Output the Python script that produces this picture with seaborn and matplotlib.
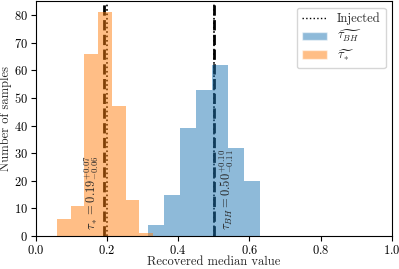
import numpy as np
import matplotlib
matplotlib.use("Agg")
import matplotlib.pyplot as plt
import seaborn as sns
from matplotlib.lines import Line2D
from matplotlib.patches import Patch

# Histogram data
bh_edges = [0.3155, 0.3604, 0.405, 0.450, 0.494, 0.539, 0.584, 0.629]
bh_counts = [4, 15, 39, 53, 62, 32, 20]
star_edges = [0.060, 0.098, 0.136, 0.175, 0.213, 0.252, 0.289, 0.328]
star_counts = [6, 11, 66, 81, 47, 13, 1]

injected = [0.2, 0.5]
bh_median, bh_up, bh_lo = 0.50, 0.10, 0.11
star_median, star_up, star_lo = 0.19, 0.07, 0.06

sns.set_style("ticks")
plt.rcParams['font.family'] = 'serif'
plt.rcParams['font.serif'] = ['cmr10', 'DejaVu Serif']
plt.rcParams['mathtext.fontset'] = 'cm'
plt.rcParams['axes.formatter.use_mathtext'] = True
plt.rcParams['font.size'] = 9
plt.rcParams['axes.edgecolor'] = 'black'
plt.rcParams['axes.linewidth'] = 0.8
plt.rcParams['xtick.color'] = 'black'
plt.rcParams['ytick.color'] = 'black'
plt.rcParams['xtick.major.size'] = 3.5
plt.rcParams['ytick.major.size'] = 3.5
plt.rcParams['xtick.major.pad'] = 2.5
plt.rcParams['ytick.major.pad'] = 2.5

fig, ax = plt.subplots(figsize=(3.99, 2.69), dpi=100)

# lines first, bars drawn over them with transparency
for v in injected:
    ax.axvline(v, color='black', linestyle=':', linewidth=1.2, zorder=0)
ax.axvline(star_median, color='black', linestyle='--', linewidth=2, zorder=0)
ax.axvline(bh_median, color='black', linestyle='--', linewidth=2, zorder=0)

bh_centers = 0.5 * (np.array(bh_edges[:-1]) + np.array(bh_edges[1:]))
star_centers = 0.5 * (np.array(star_edges[:-1]) + np.array(star_edges[1:]))

sns.histplot(x=bh_centers, weights=bh_counts, bins=bh_edges, color='C0',
             alpha=0.5, linewidth=0, ax=ax, zorder=1)
sns.histplot(x=star_centers, weights=star_counts, bins=star_edges, color='C1',
             alpha=0.5, linewidth=0, ax=ax, zorder=1)

ax.text(star_median - 0.034, 2.2,
        r'$\tau_* = %.2f^{+%.2f}_{-%.2f}$' % (star_median, star_up, star_lo),
        rotation=90, ha='center', va='bottom', fontsize=9)
ax.text(bh_median + 0.037, 2.2,
        r'$\tau_{BH} = %.2f^{+%.2f}_{-%.2f}$' % (bh_median, bh_up, bh_lo),
        rotation=90, ha='center', va='bottom', fontsize=9)

handles = [Line2D([0], [0], color='black', linestyle=':', linewidth=1.0),
           Patch(facecolor='C0', alpha=0.5),
           Patch(facecolor='C1', alpha=0.5)]
labels = ['Injected', r'$\widetilde{\tau_{BH}}$', r'$\widetilde{\tau_*}$']
ax.legend(handles, labels, loc='upper right', fontsize=9, labelspacing=0.25)

ax.set_xlim(0, 1)
ax.set_ylim(0, 85)
ax.set_yticks(range(0, 81, 10))
ax.set_xlabel('Recovered median value')
ax.set_ylabel('Number of samples')
ax.xaxis.set_label_coords(0.5, -0.085)
ax.yaxis.set_label_coords(-0.066, 0.5)

fig.subplots_adjust(left=0.09, right=0.982, bottom=0.123, top=0.995)
fig.savefig('out.png', dpi=100)
